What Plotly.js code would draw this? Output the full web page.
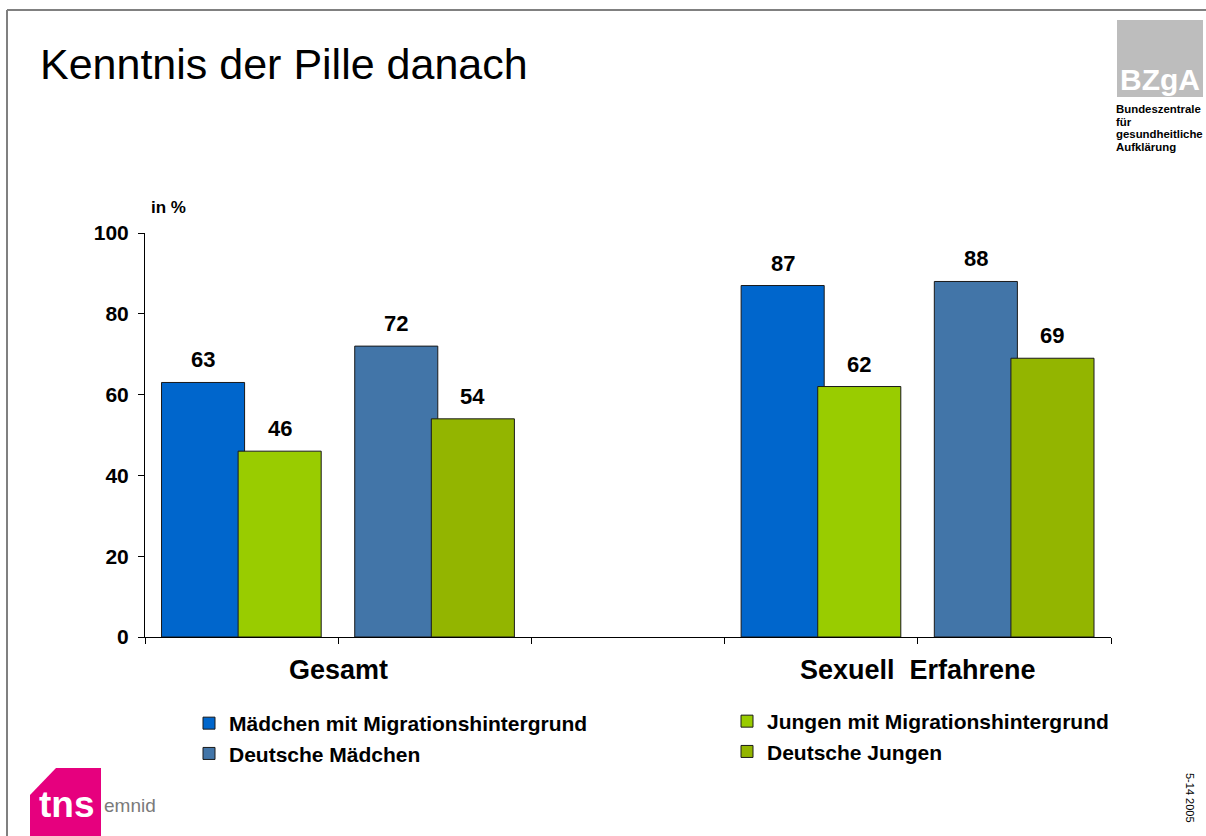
<!DOCTYPE html>
<html>
<head>
<meta charset="utf-8">
<script src="https://cdn.plot.ly/plotly-3.0.1.min.js"></script>
<style>
  html, body { margin: 0; padding: 0; background: #ffffff; }
  #chart { width: 1206px; height: 836px; }
</style>
</head>
<body>
<div id="chart"></div>
<script>
// ---------------- data ----------------
const groups = ["Gesamt", "Sexuell  Erfahrene"];
const slots = [
  "Gesamt: mit Migrationshintergrund",
  "Gesamt: Deutsche",
  "(leer)",
  "Sexuell Erfahrene: mit Migrationshintergrund",
  "Sexuell Erfahrene: Deutsche"
];
const migrationSlots = [slots[0], slots[3]];
const deutscheSlots = [slots[1], slots[4]];
const maedchenMigration = [63, 87];
const jungenMigration = [46, 62];
const deutscheMaedchen = [72, 88];
const deutscheJungen = [54, 69];
const seriesNames = [
  "Mädchen mit Migrationshintergrund",
  "Deutsche Mädchen",
  "Jungen mit Migrationshintergrund",
  "Deutsche Jungen"
];
const yTicks = [0, 20, 40, 60, 80, 100];
const yUnitLabel = "in %";
const chartTitle = "Kenntnis der Pille danach";
const logoLines = ["Bundeszentrale", "für", "gesundheitliche", "Aufklärung"];
const dateCode = "5-14 2005";

// ---------------- styling ----------------
const FONT = 'Arial, "Liberation Sans", sans-serif';
const BAR_W = 0.43;
const OFF_M = -0.4145;   // Mädchen bar offset (category units)
const OFF_J = -0.018;    // Jungen bar offset (overlaps slightly, Excel style)
const COLORS = ["#0066CC", "#4275A8", "#99CC00", "#93B500"];

// plot area in pixels (for decoration placement)
const PL = 145, PR = 1111, PT = 233, PB = 637;
const px = x => (x - PL) / (PR - PL);
const py = y => (PB - y) / (PB - PT);

function barTrace(name, x, y, color, offset, legend) {
  return {
    type: "bar", name: name, x: x, y: y,
    offset: offset, width: BAR_W,
    marker: { color: color, line: { color: "#1a1a1a", width: 1 } },
    legend: legend, legendgroup: name,
    hoverinfo: "x+y+name"
  };
}

const traces = [
  barTrace(seriesNames[0], migrationSlots, maedchenMigration, COLORS[0], OFF_M, "legend"),
  barTrace(seriesNames[1], deutscheSlots, deutscheMaedchen, COLORS[1], OFF_M, "legend"),
  barTrace(seriesNames[2], migrationSlots, jungenMigration, COLORS[2], OFF_J, "legend2"),
  barTrace(seriesNames[3], deutscheSlots, deutscheJungen, COLORS[3], OFF_J, "legend2")
];

// value labels above each bar
const annotations = [];
traces.forEach(t => {
  t.x.forEach((cat, i) => {
    annotations.push({
      xref: "x", yref: "y",
      x: slots.indexOf(cat) + t.offset + BAR_W / 2,
      y: t.y[i],
      text: "<b>" + t.y[i] + "</b>",
      showarrow: false, yanchor: "bottom", yshift: 8,
      font: { family: FONT, size: 22, color: "#000" }
    });
  });
});

// group labels centred between their two slots
[[0, 1], [3, 4]].forEach((pair, g) => {
  annotations.push({
    xref: "x", yref: "paper",
    x: (pair[0] + pair[1]) / 2, y: py(670),
    text: "<b>" + groups[g] + "</b>",
    showarrow: false, yanchor: "middle", xanchor: "center",
    font: { family: FONT, size: 27, color: "#000" }
  });
});

// y unit label
annotations.push({
  xref: "paper", yref: "paper", x: px(149), y: py(208),
  xanchor: "left", yanchor: "middle", showarrow: false,
  text: "<b>" + yUnitLabel + "</b>",
  font: { family: FONT, size: 17, color: "#000" }
});

// BZgA logo text
annotations.push({
  xref: "paper", yref: "paper", x: px(1160), y: py(79),
  xanchor: "center", yanchor: "middle", showarrow: false,
  text: "<b>BZgA</b>",
  font: { family: FONT, size: 30, color: "#ffffff" }
});
logoLines.forEach((ln, i) => {
  annotations.push({
    xref: "paper", yref: "paper", x: px(1114), y: py(109 + i * 12.6),
    xanchor: "left", yanchor: "middle", showarrow: false,
    text: "<b>" + ln + "</b>",
    font: { family: FONT, size: 11.4, color: "#000" }
  });
});

// tns emnid logo text
annotations.push({
  xref: "paper", yref: "paper", x: px(37), y: py(804),
  xanchor: "left", yanchor: "middle", showarrow: false,
  text: "<b>tns</b>",
  font: { family: FONT, size: 37, color: "#ffffff" }
});
annotations.push({
  xref: "paper", yref: "paper", x: px(102), y: py(805),
  xanchor: "left", yanchor: "middle", showarrow: false,
  text: "emnid",
  font: { family: FONT, size: 19, color: "#7a7a7a" }
});

// date code, rotated
annotations.push({
  xref: "paper", yref: "paper", x: px(1190), y: py(798),
  xanchor: "center", yanchor: "middle", showarrow: false,
  textangle: 90, text: dateCode,
  font: { family: FONT, size: 11, color: "#000" }
});

const shapes = [
  { type: "line", xref: "paper", yref: "paper", x0: px(7), y0: py(10), x1: px(1206), y1: py(10),
    line: { color: "#808080", width: 2 } },
  { type: "line", xref: "paper", yref: "paper", x0: px(7), y0: py(10), x1: px(7), y1: py(836),
    line: { color: "#808080", width: 2 } },
  { type: "rect", xref: "paper", yref: "paper", x0: px(1117), x1: px(1203), y0: py(97), y1: py(20),
    fillcolor: "#BDBDBD", line: { width: 0 }, layer: "below" },
  { type: "path", xref: "paper", yref: "paper", layer: "below",
    path: "M" + px(30) + "," + py(795) + " L" + px(56) + "," + py(768) + " L" + px(101) + "," + py(768) +
          " L" + px(101) + "," + py(836) + " L" + px(30) + "," + py(836) + " Z",
    fillcolor: "#E6007E", line: { width: 0 } }
];

const legendStyle = {
  orientation: "v", xanchor: "left", yanchor: "top",
  font: { family: FONT, size: 21, color: "#000", weight: "bold" },
  bgcolor: "rgba(0,0,0,0)", borderwidth: 0, tracegroupgap: 0, traceorder: "normal"
};

const layout = {
  width: 1206, height: 836,
  margin: { l: PL, r: 1206 - PR, t: PT, b: 836 - PB, pad: 0 },
  paper_bgcolor: "#ffffff", plot_bgcolor: "#ffffff",
  font: { family: FONT, color: "#000" },
  title: {
    text: chartTitle, x: 40 / 1206, xanchor: "left", xref: "container",
    y: 1 - 64 / 836, yanchor: "middle", yref: "container",
    font: { family: FONT, size: 43, color: "#000" }
  },
  barmode: "group",
  showlegend: true,
  legend: Object.assign({ x: px(189), y: py(703) }, legendStyle),
  legend2: Object.assign({ x: px(727), y: py(701) }, legendStyle),
  xaxis: {
    type: "category", categoryorder: "array", categoryarray: slots,
    range: [-0.5, slots.length - 0.5],
    showticklabels: false, tickson: "boundaries",
    ticks: "outside", ticklen: 6, tickcolor: "#000", tickwidth: 1,
    showline: true, linecolor: "#000", linewidth: 1,
    showgrid: false, zeroline: false, fixedrange: true
  },
  yaxis: {
    range: [0, 100], tickmode: "array", tickvals: yTicks,
    ticks: "outside", ticklen: 6, tickcolor: "#000", tickwidth: 1,
    ticklabelstandoff: 5,
    tickfont: { family: FONT, size: 21, color: "#000", weight: "bold" },
    showline: true, linecolor: "#000", linewidth: 1,
    showgrid: false, zeroline: false, fixedrange: true
  },
  annotations: annotations,
  shapes: shapes
};

Plotly.newPlot("chart", traces, layout, { displayModeBar: false, staticPlot: true });
</script>
</body>
</html>
